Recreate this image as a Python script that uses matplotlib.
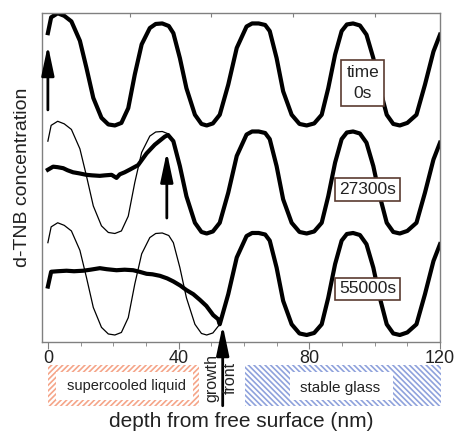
import numpy as np
import matplotlib
matplotlib.use('Agg')
import matplotlib.pyplot as plt
import matplotlib.transforms as mtransforms
from matplotlib.patches import Rectangle

plt.rcParams['font.family'] = ['Liberation Sans', 'DejaVu Sans']
plt.rcParams['hatch.linewidth'] = 1.2

# initial concentration profile (relative units)
prof_x = [0, 1, 3, 5, 7.2, 9.8, 11.8, 13.9, 16.4, 18.5, 20.5, 22.5, 24.6, 26.6, 28.7,
          31.2, 33, 35, 37, 38.4, 40.4, 42.4, 45, 47, 48.6, 50.5, 52.6, 55.2, 57.8, 60.8,
          62.5, 64.5, 66.5, 67.9, 70, 72, 74.6, 77, 79.2, 81.5, 83.8, 85.8, 87.9, 89.9,
          91.5, 93.4, 95.5, 97.5, 99.6, 101.5, 103.7, 105.7, 107.7, 110, 112.8, 115.4,
          118, 120]
prof_v = [0.81, 1.12, 1.2, 1.15, 1.04, 0.66, 0.13, -0.46, -0.85, -0.98, -1.0, -0.95, -0.66,
          0.0, 0.59, 0.91, 0.99, 1.0, 0.95, 0.81, 0.32, -0.27, -0.79, -0.97, -1.0, -0.96,
          -0.79, -0.2, 0.52, 0.94, 1.0, 1.0, 0.97, 0.85, 0.32, -0.33, -0.79, -0.97, -1.0,
          -0.96, -0.79, -0.27, 0.39, 0.85, 0.98, 1.0, 0.96, 0.78, 0.32, -0.25, -0.79, -0.97,
          -1.0, -0.95, -0.79, -0.2, 0.45, 0.78]

# liquid part after 27300 s
mid_x = [0, 1.6, 3, 4.7, 6, 7.7, 9.5, 11.8, 13.5, 15.9, 17.5, 19.5, 21, 22, 23.5, 25,
         27.6, 30.2, 32.7, 35.8, 36.8]
mid_v = [0.25, 0.31, 0.30, 0.28, 0.24, 0.2, 0.18, 0.15, 0.14, 0.13, 0.14, 0.15, 0.09, 0.16,
         0.2, 0.25, 0.34, 0.57, 0.74, 0.9, 0.93]
mid_front = 38.4

# liquid part after 55000 s
bot_x = [0, 1, 3, 5.7, 8, 10.8, 13, 15.9, 18, 21, 23.5, 26.1, 28, 30.2, 32, 34.3, 36.5,
         38.4, 40.5, 42.4, 44.5, 46.5, 48.5, 50.6, 52.1]
bot_v = [-0.05, 0.24, 0.25, 0.26, 0.25, 0.26, 0.28, 0.31, 0.29, 0.27, 0.28, 0.27, 0.24, 0.2,
         0.19, 0.16, 0.11, 0.05, -0.03, -0.12, -0.2, -0.31, -0.43, -0.61, -0.69]
bot_front = 52.6

offsets = [5.245, 3.127, 1.137]
labels = ['time\n0s', '27300s', '55000s']

prof_x = np.array(prof_x)
prof_v = np.array(prof_v)

fig = plt.figure(figsize=(4.56, 4.33), dpi=100)
ax = fig.add_axes([0.0921, 0.2102, 0.8728, 0.7598])

# 0 s
ax.plot(prof_x, prof_v + offsets[0], color='black', lw=3)

# 27300 s
m = prof_x <= mid_front
ax.plot(prof_x[m], prof_v[m] + offsets[1], color='black', lw=0.9)
x2 = np.concatenate([mid_x, prof_x[prof_x >= mid_front]])
v2 = np.concatenate([mid_v, prof_v[prof_x >= mid_front]])
ax.plot(x2, v2 + offsets[1], color='black', lw=3)

# 55000 s
m = prof_x <= bot_front
ax.plot(prof_x[m], prof_v[m] + offsets[2], color='black', lw=0.9)
x3 = np.concatenate([bot_x, prof_x[prof_x >= bot_front]])
v3 = np.concatenate([bot_v, prof_v[prof_x >= bot_front]])
ax.plot(x3, v3 + offsets[2], color='black', lw=3)

ax.set_xlim(-1.8, 120)
ax.set_ylim(0, 6.45)

# growth front arrows
aprops = dict(arrowstyle='-|>,head_length=1.8,head_width=0.38', mutation_scale=10,
              lw=2, color='black', shrinkA=0, shrinkB=0)
ax.annotate('', xy=(0, 5.82), xytext=(0, 4.55), arrowprops=aprops)
ax.annotate('', xy=(36.4, 3.73), xytext=(36.4, 2.43), arrowprops=aprops)
ax.annotate('', xy=(53.5, 0.33), xytext=(53.5, -1.25), arrowprops=aprops,
            annotation_clip=False)

# time labels
tbox = dict(boxstyle='square,pad=0.22', fc='white', ec='#5a3b30', lw=1.2)
ax.text(96.4, 5.08, labels[0], ha='center', va='center', fontsize=12.5,
        color='#222222', bbox=dict(boxstyle='square,pad=0.3', fc='white',
                                   ec='#5a3b30', lw=1.2), linespacing=1.5)
ax.text(97.8, 2.99, labels[1], ha='center', va='center', fontsize=12.5,
        color='#222222', bbox=tbox)
ax.text(97.9, 1.04, labels[2], ha='center', va='center', fontsize=12.5,
        color='#222222', bbox=tbox)

# axes styling
for s in ax.spines.values():
    s.set_color('#808080')
    s.set_linewidth(1)
ax.set_yticks([])
ax.set_xticks([0, 40, 80, 120])
ax.set_xticks(np.arange(0, 121, 10), minor=True)
ax.tick_params(axis='x', which='major', direction='out', length=5, color='#808080',
               labelsize=13, labelcolor='#222222', pad=1)
ax.tick_params(axis='x', which='minor', direction='out', length=3, color='#808080')
top = ax.secondary_xaxis('top')
top.set_xticks([25, 50, 75, 100])
top.tick_params(direction='in', length=3, color='#808080', labeltop=False)
top.spines['top'].set_visible(False)

ax.set_ylabel('d-TNB concentration', fontsize=14, color='#222222', labelpad=8)
ax.set_xlabel('depth from free surface (nm)', fontsize=15, color='#222222', labelpad=32)

# region bars under the axis
tr = mtransforms.blended_transform_factory(ax.transData, ax.transAxes)
ax.add_patch(Rectangle((0, -0.195), 46.2, 0.125, transform=tr, clip_on=False,
                       fill=False, hatch='//////', ec='#f5a589', lw=0))
ax.add_patch(Rectangle((2.6, -0.176), 41.9, 0.085, transform=tr, clip_on=False,
                       fc='white', ec='none'))
ax.text(24, -0.135, 'supercooled liquid', transform=tr, ha='center', va='center',
        fontsize=10.5, color='#222222')
ax.add_patch(Rectangle((60.3, -0.195), 59.9, 0.125, transform=tr, clip_on=False,
                       fill=False, hatch='\\\\\\\\\\\\', ec='#8fa2dc', lw=0))
ax.add_patch(Rectangle((74, -0.176), 31.5, 0.085, transform=tr, clip_on=False,
                       fc='white', ec='none'))
ax.text(89.4, -0.14, 'stable glass', transform=tr, ha='center', va='center',
        fontsize=11, color='#222222')

ax.text(50.1, -0.109, 'growth', transform=tr, rotation=90, ha='center', va='center',
        fontsize=11.5, color='#222222')
ax.text(55.9, -0.109, 'front', transform=tr, rotation=90, ha='center', va='center',
        fontsize=11.5, color='#222222')

fig.savefig('out.png', dpi=100)
